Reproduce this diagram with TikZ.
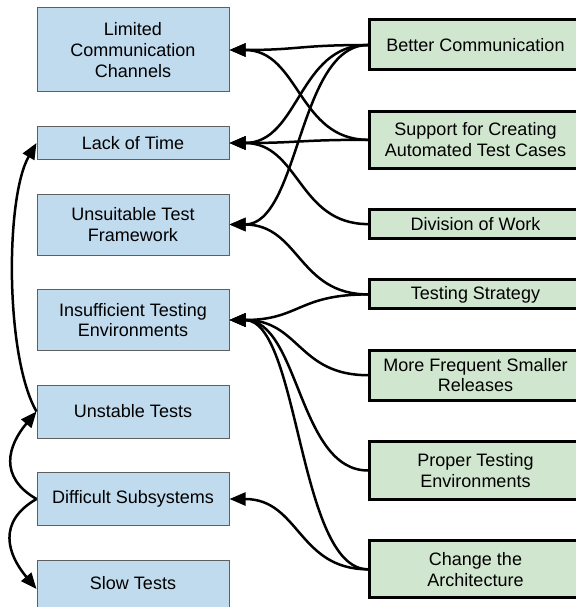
\documentclass[tikz,border=0pt]{standalone}
\usepackage{fontspec}
\setmainfont{Liberation Sans}
\usetikzlibrary{positioning,arrows.meta}
\definecolor{probfill}{RGB}{192,218,238}
\definecolor{probline}{RGB}{95,95,95}
\definecolor{fixfill}{RGB}{208,230,207}

\begin{document}
\begin{tikzpicture}[
    x=1pt, y=1pt,
    problem/.style={rectangle, draw=probline, line width=1pt, fill=probfill,
                minimum width=192pt, align=center, font=\fontsize{18}{20.7}\selectfont},
    remedy/.style={rectangle, draw, line width=3pt, fill=fixfill,
                minimum width=212pt, align=center, font=\fontsize{18}{20.7}\selectfont},
    arr/.style={-{Triangle[length=16pt,width=13pt]}, line width=2.5pt},
    link/.style={arr, to path={.. controls ([xshift=-70pt]\tikztostart)
                 and ([xshift=70pt]\tikztotarget) .. (\tikztotarget)}}
]
    \useasboundingbox (0,0) rectangle (575,-607);

    % problems
    \node[problem, minimum height=84pt] (comm) at (133,-50) {Limited\\Communication\\Channels};
    \node[problem, minimum height=33pt, below=33.5pt of comm]  (time)  {Lack of Time};
    \node[problem, minimum height=61pt, below=33.5pt of time]  (frame) {Unsuitable Test\\Framework};
    \node[problem, minimum height=61pt, below=33.5pt of frame] (env)   {Insufficient Testing\\Environments};
    \node[problem, minimum height=53pt, below=33.5pt of env]   (unst)  {Unstable Tests};
    \node[problem, minimum height=53pt, below=33.5pt of unst]  (subs)  {Difficult Subsystems};
    \node[problem, minimum height=58pt, below=33.5pt of subs, text depth=13pt] (slow) {Slow Tests};

    % remedies
    \node[remedy, minimum height=50pt] (bcom) at (475.5,-45) {Better Communication};
    \node[remedy, minimum height=57pt, below=38.3pt of bcom] (auto)  {Support for Creating\\Automated Test Cases};
    \node[remedy, minimum height=29pt, below=38.3pt of auto] (work)  {Division of Work};
    \node[remedy, minimum height=29pt, below=38.3pt of work] (strat) {Testing Strategy};
    \node[remedy, minimum height=50pt, below=38.3pt of strat](rel)   {More Frequent Smaller\\Releases};
    \node[remedy, minimum height=58pt, below=38.3pt of rel]  (penv)  {Proper Testing\\Environments};
    \node[remedy, minimum height=57pt, below=38.3pt of penv] (arch)  {Change the\\Architecture};

    \draw[link] (bcom.west)  to (comm.east);
    \draw[link] (bcom.west)  to (time.east);
    \draw[link] (bcom.west)  to (frame.east);
    \draw[link] (auto.west)  to (comm.east);
    \draw[link] (auto.west)  to (time.east);
    \draw[link] (work.west)  to (time.east);
    \draw[link] (strat.west) to (frame.east);
    \draw[link] (strat.west) to (env.east);
    \draw[link] (rel.west)   to (env.east);
    \draw[link] (penv.west)  to (env.east);
    \draw[link] (arch.west)  to (env.east);
    \draw[link] (arch.west)  to (subs.east);

    \draw[arr] (unst.west) to[out=120,in=-120,looseness=0.6] (time.west);
    \draw[arr] (subs.west) to[out=150,in=-130,looseness=1.3] (unst.west);
    \draw[arr] (subs.west) to[out=-150,in=130,looseness=1.3] (slow.west);
\end{tikzpicture}
\end{document}
